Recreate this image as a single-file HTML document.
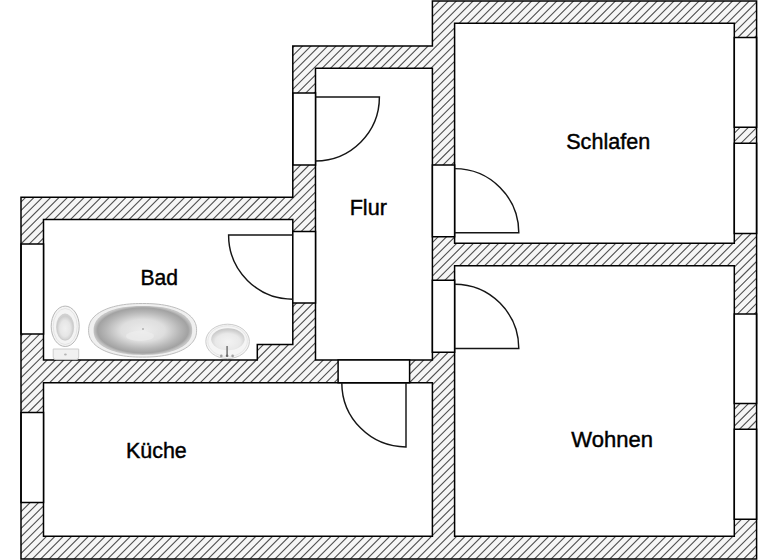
<!DOCTYPE html>
<html><head><meta charset="utf-8"><title>Grundriss</title><style>
html,body{margin:0;padding:0;background:#fff;width:768px;height:560px;overflow:hidden}
svg{display:block}
.lb{font-family:"Liberation Sans",sans-serif;font-size:22.5px;fill:#000;stroke:#000;stroke-width:0.45px}
</style></head><body>
<svg width="768" height="560" viewBox="0 0 768 560">
<defs>
<clipPath id="cw"><path d="M21.0,197.3 H292.8 V46.0 H432.4 V1.0 H756.6 V558.9 H21.0 Z"/></clipPath>

<radialGradient id="gB" cx="0.5" cy="0.5" r="0.5">
  <stop offset="0" stop-color="#ececec"/>
  <stop offset="0.45" stop-color="#dedede"/>
  <stop offset="0.75" stop-color="#b6b6b6"/>
  <stop offset="0.92" stop-color="#a2a2a2"/>
  <stop offset="1" stop-color="#c4c4c4"/>
</radialGradient>
<radialGradient id="gT" cx="0.5" cy="0.55" r="0.55">
  <stop offset="0" stop-color="#f0f0f0"/>
  <stop offset="0.55" stop-color="#e6e6e6"/>
  <stop offset="0.85" stop-color="#cdcdcd"/>
  <stop offset="1" stop-color="#d6d6d6"/>
</radialGradient>
<radialGradient id="gS" cx="0.5" cy="0.62" r="0.62">
  <stop offset="0" stop-color="#f3f3f3"/>
  <stop offset="0.6" stop-color="#e9e9e9"/>
  <stop offset="0.85" stop-color="#d0d0d0"/>
  <stop offset="1" stop-color="#c4c4c4"/>
</radialGradient>

</defs>
<path d="M21.0,197.3 H292.8 V46.0 H432.4 V1.0 H756.6 V558.9 H21.0 Z" fill="#f6f6f6"/>
<path d="M5.45,0L-594.55,600M13.82,0L-586.18,600M22.19,0L-577.81,600M30.56,0L-569.44,600M38.93,0L-561.07,600M47.30,0L-552.71,600M55.66,0L-544.34,600M64.03,0L-535.97,600M72.40,0L-527.60,600M80.77,0L-519.23,600M89.14,0L-510.86,600M97.51,0L-502.49,600M105.88,0L-494.12,600M114.25,0L-485.75,600M122.62,0L-477.38,600M130.99,0L-469.01,600M139.35,0L-460.65,600M147.72,0L-452.28,600M156.09,0L-443.91,600M164.46,0L-435.54,600M172.83,0L-427.17,600M181.20,0L-418.80,600M189.57,0L-410.43,600M197.94,0L-402.06,600M206.31,0L-393.69,600M214.68,0L-385.32,600M223.04,0L-376.96,600M231.41,0L-368.59,600M239.78,0L-360.22,600M248.15,0L-351.85,600M256.52,0L-343.48,600M264.89,0L-335.11,600M273.26,0L-326.74,600M281.63,0L-318.37,600M290.00,0L-310.00,600M298.37,0L-301.63,600M306.73,0L-293.27,600M315.10,0L-284.90,600M323.47,0L-276.53,600M331.84,0L-268.16,600M340.21,0L-259.79,600M348.58,0L-251.42,600M356.95,0L-243.05,600M365.32,0L-234.68,600M373.69,0L-226.31,600M382.06,0L-217.94,600M390.42,0L-209.58,600M398.79,0L-201.21,600M407.16,0L-192.84,600M415.53,0L-184.47,600M423.90,0L-176.10,600M432.27,0L-167.73,600M440.64,0L-159.36,600M449.01,0L-150.99,600M457.38,0L-142.62,600M465.75,0L-134.25,600M474.11,0L-125.89,600M482.48,0L-117.52,600M490.85,0L-109.15,600M499.22,0L-100.78,600M507.59,0L-92.41,600M515.96,0L-84.04,600M524.33,0L-75.67,600M532.70,0L-67.30,600M541.07,0L-58.93,600M549.44,0L-50.56,600M557.80,0L-42.20,600M566.17,0L-33.83,600M574.54,0L-25.46,600M582.91,0L-17.09,600M591.28,0L-8.72,600M599.65,0L-0.35,600M608.02,0L8.02,600M616.39,0L16.39,600M624.76,0L24.76,600M633.13,0L33.13,600M641.49,0L41.49,600M649.86,0L49.86,600M658.23,0L58.23,600M666.60,0L66.60,600M674.97,0L74.97,600M683.34,0L83.34,600M691.71,0L91.71,600M700.08,0L100.08,600M708.45,0L108.45,600M716.82,0L116.82,600M725.18,0L125.18,600M733.55,0L133.55,600M741.92,0L141.92,600M750.29,0L150.29,600M758.66,0L158.66,600M767.03,0L167.03,600M775.40,0L175.40,600M783.77,0L183.77,600M792.14,0L192.14,600M800.51,0L200.51,600M808.87,0L208.87,600M817.24,0L217.24,600M825.61,0L225.61,600M833.98,0L233.98,600M842.35,0L242.35,600M850.72,0L250.72,600M859.09,0L259.09,600M867.46,0L267.46,600M875.83,0L275.83,600M884.20,0L284.20,600M892.56,0L292.56,600M900.93,0L300.93,600M909.30,0L309.30,600M917.67,0L317.67,600M926.04,0L326.04,600M934.41,0L334.41,600M942.78,0L342.78,600M951.15,0L351.15,600M959.52,0L359.52,600M967.89,0L367.89,600M976.25,0L376.25,600M984.62,0L384.62,600M992.99,0L392.99,600M1001.36,0L401.36,600M1009.73,0L409.73,600M1018.10,0L418.10,600M1026.47,0L426.47,600M1034.84,0L434.84,600M1043.21,0L443.21,600M1051.58,0L451.58,600M1059.94,0L459.94,600M1068.31,0L468.31,600M1076.68,0L476.68,600M1085.05,0L485.05,600M1093.42,0L493.42,600M1101.79,0L501.79,600M1110.16,0L510.16,600M1118.53,0L518.53,600M1126.90,0L526.90,600M1135.27,0L535.27,600M1143.63,0L543.63,600M1152.00,0L552.00,600M1160.37,0L560.37,600M1168.74,0L568.74,600M1177.11,0L577.11,600M1185.48,0L585.48,600M1193.85,0L593.85,600M1202.22,0L602.22,600M1210.59,0L610.59,600M1218.96,0L618.96,600M1227.32,0L627.32,600M1235.69,0L635.69,600M1244.06,0L644.06,600M1252.43,0L652.43,600M1260.80,0L660.80,600M1269.17,0L669.17,600M1277.54,0L677.54,600M1285.91,0L685.91,600M1294.28,0L694.28,600M1302.64,0L702.64,600M1311.01,0L711.01,600M1319.38,0L719.38,600M1327.75,0L727.75,600M1336.12,0L736.12,600M1344.49,0L744.49,600M1352.86,0L752.86,600M1361.23,0L761.23,600M1369.60,0L769.60,600M1377.97,0L777.97,600M1386.33,0L786.33,600M1394.70,0L794.70,600" clip-path="url(#cw)" stroke="#505050" stroke-width="1.1" fill="none"/>
<g fill="#fff" stroke="#000" stroke-width="1.5" stroke-linejoin="miter">
<path d="M454.6,23.3 H734.3 V243.2 H454.6 Z"/><path d="M454.6,265.8 H734.3 V536.3 H454.6 Z"/><path d="M315.5,68.2 H432.4 V360.1 H315.5 Z"/><path d="M43.5,219.5 H292.8 V344.4 H257.3 V360.1 H43.5 Z"/><path d="M43.5,382.7 H432.4 V536.3 H43.5 Z"/>
<path d="M734.3,37.4 H756.6 V127.3 H734.3 Z"/><path d="M734.3,143.2 H756.6 V233.4 H734.3 Z"/><path d="M734.3,313.9 H756.6 V403.4 H734.3 Z"/><path d="M734.3,429.2 H756.6 V519.2 H734.3 Z"/><path d="M21.0,244.0 H43.5 V334.0 H21.0 Z"/><path d="M21.0,412.4 H43.5 V502.5 H21.0 Z"/><path d="M292.8,93.0 H315.5 V165.1 H292.8 Z"/><path d="M292.8,231.4 H315.5 V302.9 H292.8 Z"/><path d="M432.4,165.0 H454.6 V236.8 H432.4 Z"/><path d="M432.4,280.2 H454.6 V352.3 H432.4 Z"/><path d="M338.1,360.1 H409.6 V382.7 H338.1 Z"/>
<path d="M21.0,197.3 H292.8 V46.0 H432.4 V1.0 H756.6 V558.9 H21.0 Z" fill="none"/>
</g>
<g fill="none" stroke="#151515" stroke-width="1.45">
<path d="M315.5,97.0 H379.4 A63.900000000000006,63.900000000000006 0 0 1 315.5,160.89999999999998"/><path d="M292.8,235 H228.60000000000002 A64.2,64.2 0 0 0 292.8,299.2"/><path d="M454.6,232.8 H518.8000000000001 A64.2,64.2 0 0 0 454.6,168.60000000000002"/><path d="M454.6,348.5 H518.8000000000001 A64.2,64.2 0 0 0 454.6,284.3"/><path d="M406,382.7 V446.9 A64.2,64.2 0 0 1 341.8,382.7"/>
</g>

<g id="toilet">
  <path d="M53.2,349 H78.7 V357 Q78.7,359.6 76,359.6 H55.9 Q53.2,359.6 53.2,357 Z" fill="#f1f1f1" stroke="#c9c9c9" stroke-width="0.9"/>
  <ellipse cx="65.4" cy="354.5" rx="1.4" ry="1.1" fill="#b5b5b5"/>
  <ellipse cx="65.2" cy="326.3" rx="14" ry="20.2" fill="#f4f4f4" stroke="#b8b8b8" stroke-width="1"/>
  <ellipse cx="65.2" cy="326.5" rx="12" ry="18" fill="none" stroke="#e0e0e0" stroke-width="0.8"/>
  <ellipse cx="65.1" cy="327.1" rx="8.6" ry="13.2" fill="url(#gT)" stroke="#c8c8c8" stroke-width="0.7"/>
</g>
<g id="tub">
  <path d="M196.60,330.30 L196.53,332.25 L196.34,333.90 L196.01,335.45 L195.55,336.93 L194.96,338.36 L194.24,339.74 L193.40,341.06 L192.43,342.35 L191.34,343.58 L190.12,344.77 L188.78,345.92 L187.33,347.01 L185.76,348.06 L184.08,349.05 L182.28,349.99 L180.38,350.88 L178.38,351.72 L176.27,352.50 L174.06,353.22 L171.76,353.88 L169.36,354.49 L166.87,355.03 L164.29,355.51 L161.61,355.93 L158.84,356.29 L155.97,356.58 L152.98,356.81 L149.85,356.97 L146.52,357.07 L142.60,357.10 L138.68,357.07 L135.35,356.97 L132.22,356.81 L129.23,356.58 L126.36,356.29 L123.59,355.93 L120.91,355.51 L118.33,355.03 L115.84,354.49 L113.44,353.88 L111.14,353.22 L108.93,352.50 L106.82,351.72 L104.82,350.88 L102.92,349.99 L101.12,349.05 L99.44,348.06 L97.87,347.01 L96.42,345.92 L95.08,344.77 L93.86,343.58 L92.77,342.35 L91.80,341.06 L90.96,339.74 L90.24,338.36 L89.65,336.93 L89.19,335.45 L88.86,333.90 L88.67,332.25 L88.60,330.30 L88.67,328.35 L88.86,326.70 L89.19,325.15 L89.65,323.67 L90.24,322.24 L90.96,320.86 L91.80,319.54 L92.77,318.25 L93.86,317.02 L95.08,315.83 L96.42,314.68 L97.87,313.59 L99.44,312.54 L101.12,311.55 L102.92,310.61 L104.82,309.72 L106.82,308.88 L108.93,308.10 L111.14,307.38 L113.44,306.72 L115.84,306.11 L118.33,305.57 L120.91,305.09 L123.59,304.67 L126.36,304.31 L129.23,304.02 L132.22,303.79 L135.35,303.63 L138.68,303.53 L142.60,303.50 L146.52,303.53 L149.85,303.63 L152.98,303.79 L155.97,304.02 L158.84,304.31 L161.61,304.67 L164.29,305.09 L166.87,305.57 L169.36,306.11 L171.76,306.72 L174.06,307.38 L176.27,308.10 L178.38,308.88 L180.38,309.72 L182.28,310.61 L184.08,311.55 L185.76,312.54 L187.33,313.59 L188.78,314.68 L190.12,315.83 L191.34,317.02 L192.43,318.25 L193.40,319.54 L194.24,320.86 L194.96,322.24 L195.55,323.67 L196.01,325.15 L196.34,326.70 L196.53,328.35 Z" fill="#f0f0f0" stroke="#bdbdbd" stroke-width="1"/>
  <path d="M192.20,330.40 L192.14,332.18 L191.96,333.69 L191.66,335.11 L191.24,336.47 L190.70,337.77 L190.05,339.03 L189.28,340.24 L188.39,341.41 L187.39,342.54 L186.28,343.63 L185.06,344.68 L183.73,345.68 L182.30,346.63 L180.77,347.54 L179.13,348.40 L177.39,349.22 L175.56,349.98 L173.64,350.69 L171.63,351.35 L169.52,351.96 L167.33,352.51 L165.06,353.01 L162.70,353.45 L160.26,353.83 L157.73,354.16 L155.10,354.42 L152.38,354.63 L149.52,354.78 L146.48,354.87 L142.90,354.90 L139.32,354.87 L136.28,354.78 L133.42,354.63 L130.70,354.42 L128.07,354.16 L125.54,353.83 L123.10,353.45 L120.74,353.01 L118.47,352.51 L116.28,351.96 L114.17,351.35 L112.16,350.69 L110.24,349.98 L108.41,349.22 L106.67,348.40 L105.03,347.54 L103.50,346.63 L102.07,345.68 L100.74,344.68 L99.52,343.63 L98.41,342.54 L97.41,341.41 L96.52,340.24 L95.75,339.03 L95.10,337.77 L94.56,336.47 L94.14,335.11 L93.84,333.69 L93.66,332.18 L93.60,330.40 L93.66,328.62 L93.84,327.11 L94.14,325.69 L94.56,324.33 L95.10,323.03 L95.75,321.77 L96.52,320.56 L97.41,319.39 L98.41,318.26 L99.52,317.17 L100.74,316.12 L102.07,315.12 L103.50,314.17 L105.03,313.26 L106.67,312.40 L108.41,311.58 L110.24,310.82 L112.16,310.11 L114.17,309.45 L116.28,308.84 L118.47,308.29 L120.74,307.79 L123.10,307.35 L125.54,306.97 L128.07,306.64 L130.70,306.38 L133.42,306.17 L136.28,306.02 L139.32,305.93 L142.90,305.90 L146.48,305.93 L149.52,306.02 L152.38,306.17 L155.10,306.38 L157.73,306.64 L160.26,306.97 L162.70,307.35 L165.06,307.79 L167.33,308.29 L169.52,308.84 L171.63,309.45 L173.64,310.11 L175.56,310.82 L177.39,311.58 L179.13,312.40 L180.77,313.26 L182.30,314.17 L183.73,315.12 L185.06,316.12 L186.28,317.17 L187.39,318.26 L188.39,319.39 L189.28,320.56 L190.05,321.77 L190.70,323.03 L191.24,324.33 L191.66,325.69 L191.96,327.11 L192.14,328.62 Z" fill="url(#gB)"/>
  <ellipse cx="140" cy="336" rx="14" ry="5" fill="#eeeeee" opacity="0.6"/>
  <circle cx="143" cy="329" r="1" fill="#b0b0b0"/>
</g>
<g id="sink">
  <ellipse cx="227.6" cy="341.4" rx="21.8" ry="17.2" fill="#f5f5f5" stroke="#c6c6c6" stroke-width="0.9"/>
  <ellipse cx="227.6" cy="341.2" rx="19.8" ry="15.4" fill="none" stroke="#e2e2e2" stroke-width="0.8"/>
  <ellipse cx="227.9" cy="339.2" rx="16.7" ry="11" fill="url(#gS)"/>
  <rect x="226.3" y="346" width="1.6" height="10.4" fill="#7a7a7a"/>
  <circle cx="227.1" cy="355.8" r="1.3" fill="#6a6a6a"/>
  <circle cx="221.3" cy="355.9" r="1.3" fill="#a0a0a0"/>
  <circle cx="232.6" cy="355.9" r="1.3" fill="#a0a0a0"/>
</g>

<text class="lb" transform="translate(140.40,285.2) scale(0.9368,1)">Bad</text><text class="lb" transform="translate(349.66,215.0) scale(0.9608,1)">Flur</text><text class="lb" transform="translate(566.23,148.9) scale(0.9591,1)">Schlafen</text><text class="lb" transform="translate(125.98,458.3) scale(0.9528,1)">Küche</text><text class="lb" transform="translate(571.30,447.1) scale(0.9788,1)">Wohnen</text>
</svg>
</body></html>
